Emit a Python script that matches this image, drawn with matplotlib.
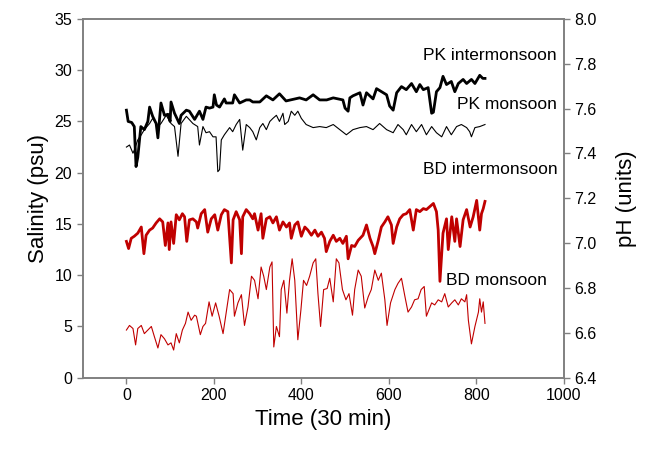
import matplotlib.pyplot as plt
from matplotlib.ticker import FormatStrFormatter

plt.rcParams['font.family'] = ['Liberation Sans', 'DejaVu Sans']

# PK intermonsoon (thick black)
pk_inter_t = [0, 4, 12, 18, 22, 26, 33, 41, 49, 53, 60, 68, 72, 79, 87, 95, 100, 102, 110, 121,
              125, 137, 144, 156, 167, 175, 182, 190, 198, 201, 206, 213, 224, 228, 243, 247, 259,
              274, 282, 289, 305, 320, 335, 350, 365, 396, 411, 427, 442, 458, 473, 495, 500, 507,
              511, 518, 534, 541, 549, 564, 572, 595, 602, 610, 618, 629, 640, 652, 663, 671, 679,
              690, 698, 702, 709, 717, 724, 732, 743, 751, 759, 770, 778, 789, 797, 808, 815, 820]
pk_inter_v = [26.1, 25.0, 24.9, 24.5, 20.6, 21.5, 24.5, 24.2, 25.0, 26.4, 25.5, 24.8, 23.4, 26.8,
              25.6, 25.7, 25.0, 26.9, 25.8, 24.8, 25.6, 26.1, 26.0, 25.2, 26.0, 25.2, 26.4, 26.3,
              26.4, 27.6, 26.6, 26.4, 27.2, 26.8, 26.8, 27.6, 26.8, 27.1, 27.1, 26.9, 26.9, 27.5,
              27.1, 27.7, 27.0, 27.3, 27.1, 27.6, 27.1, 27.1, 27.3, 27.1, 26.3, 26.0, 27.3, 27.5,
              27.8, 26.6, 27.8, 27.2, 28.2, 27.6, 26.5, 26.1, 27.8, 28.4, 28.1, 28.7, 27.9, 28.6,
              28.1, 28.3, 25.8, 25.9, 27.9, 28.3, 29.4, 28.6, 28.9, 27.9, 28.7, 29.1, 28.7, 29.1,
              28.7, 29.5, 29.2, 29.2]

# PK monsoon (thin black)
pk_mon_t = [0, 7, 15, 18, 26, 34, 41, 53, 60, 72, 79, 91, 102, 110, 118, 125, 137, 152, 163, 167,
            175, 182, 190, 198, 205, 209, 213, 217, 224, 236, 243, 251, 259, 266, 274, 282, 289,
            297, 305, 312, 320, 328, 335, 343, 350, 358, 362, 370, 377, 385, 392, 400, 411, 427,
            442, 457, 473, 488, 503, 518, 534, 549, 564, 579, 595, 610, 621, 633, 640, 652, 663,
            675, 686, 698, 709, 721, 732, 743, 755, 766, 778, 785, 789, 797, 808, 820]
pk_mon_v = [22.5, 22.7, 21.9, 22.2, 23.2, 23.7, 24.2, 24.8, 25.3, 24.5, 24.8, 25.6, 24.8, 24.5,
            21.6, 24.8, 25.5, 24.8, 24.5, 22.7, 24.5, 23.9, 24.0, 23.5, 23.5, 20.1, 20.3, 23.2,
            23.7, 24.4, 24.0, 24.7, 25.2, 22.2, 24.7, 24.4, 24.0, 23.2, 24.4, 24.8, 24.2, 25.0,
            25.3, 25.6, 25.0, 25.8, 24.7, 25.0, 26.0, 25.6, 26.0, 25.3, 24.7, 24.4, 24.5, 24.4,
            24.7, 24.2, 23.7, 24.2, 24.4, 24.5, 24.2, 24.8, 24.2, 23.9, 24.7, 24.2, 23.7, 24.7,
            24.0, 24.7, 23.7, 24.5, 23.9, 23.5, 24.5, 23.7, 24.5, 24.7, 24.4, 24.0, 23.5, 24.4,
            24.5, 24.7]

# BD intermonsoon (thick red)
bd_inter_t = [0, 5, 11, 18, 26, 34, 40, 45, 53, 60, 68, 76, 83, 89, 95, 98, 102, 108, 114, 121,
              128, 133, 138, 144, 152, 160, 163, 171, 179, 186, 194, 202, 209, 217, 224, 232, 240,
              244, 251, 259, 263, 266, 274, 282, 289, 293, 301, 308, 312, 320, 328, 335, 343, 350,
              358, 366, 373, 377, 385, 392, 400, 408, 415, 423, 431, 438, 446, 453, 457, 465, 473,
              480, 488, 495, 503, 507, 515, 522, 530, 541, 549, 557, 564, 568, 576, 583, 591, 598,
              606, 610, 618, 625, 633, 640, 648, 656, 663, 671, 679, 686, 694, 702, 709, 713, 717,
              724, 732, 736, 744, 751, 755, 763, 770, 778, 786, 793, 801, 808, 812, 816, 820]
bd_inter_v = [13.3, 12.6, 13.6, 13.8, 14.1, 14.7, 12.1, 13.9, 14.4, 14.6, 15.1, 15.5, 15.2, 12.9,
              15.1, 12.5, 15.2, 13.1, 15.9, 15.4, 16.0, 15.7, 13.3, 15.4, 15.5, 15.2, 14.6, 16.0,
              16.4, 14.2, 15.5, 15.9, 14.4, 15.9, 16.4, 16.2, 11.2, 15.4, 16.2, 15.4, 12.1, 15.7,
              16.4, 16.0, 15.5, 16.0, 14.4, 16.0, 13.6, 15.5, 15.7, 15.1, 15.7, 14.4, 15.2, 14.7,
              15.1, 13.6, 14.9, 15.2, 13.8, 14.7, 14.4, 13.9, 14.4, 13.8, 14.2, 13.6, 12.3, 13.3,
              13.9, 13.3, 13.6, 13.1, 13.8, 11.6, 12.9, 12.8, 13.4, 13.9, 14.9, 13.6, 12.8, 12.1,
              13.4, 14.7, 15.2, 15.7, 14.9, 13.1, 14.7, 15.5, 15.9, 16.0, 16.4, 14.4, 16.4, 16.2,
              16.5, 16.4, 16.7, 17.0, 16.2, 14.4, 9.4, 14.1, 15.5, 12.5, 15.7, 13.3, 15.5, 12.8,
              15.4, 16.4, 14.7, 15.7, 17.3, 14.4, 16.0, 16.5, 17.2]

# BD monsoon (thin red)
bd_mon_t = [0, 7, 15, 21, 26, 34, 41, 49, 57, 64, 72, 79, 87, 95, 102, 108, 114, 121, 128, 135,
            141, 148, 156, 160, 169, 175, 181, 189, 196, 204, 212, 221, 228, 236, 244, 247, 255,
            263, 270, 278, 286, 293, 301, 308, 314, 320, 328, 333, 337, 343, 350, 354, 360, 367,
            373, 379, 385, 392, 399, 405, 412, 419, 427, 433, 438, 444, 451, 459, 465, 473, 480,
            486, 494, 502, 509, 517, 522, 530, 537, 545, 553, 560, 568, 576, 583, 591, 596, 604,
            614, 621, 629, 637, 644, 652, 659, 667, 674, 681, 686, 698, 705, 713, 721, 728, 736,
            744, 751, 759, 766, 774, 778, 782, 789, 797, 805, 808, 812, 816, 820]
bd_mon_v = [4.65, 5.1, 4.8, 3.2, 4.8, 5.1, 4.3, 4.65, 5.0, 4.0, 2.9, 4.2, 3.8, 3.2, 3.4, 2.7, 4.3,
            3.4, 4.65, 5.3, 6.4, 5.6, 6.1, 6.0, 4.2, 5.0, 5.3, 7.4, 6.0, 7.3, 6.0, 4.3, 6.3, 8.6,
            8.2, 6.0, 7.3, 8.1, 5.1, 6.9, 9.9, 9.5, 7.7, 10.8, 9.9, 8.6, 10.8, 11.3, 3.0, 5.0,
            4.0, 8.6, 9.5, 6.3, 9.5, 11.6, 9.5, 3.7, 6.6, 9.5, 9.0, 9.9, 11.2, 11.6, 8.2, 5.0,
            8.6, 8.7, 9.7, 7.4, 11.6, 11.2, 8.6, 7.6, 8.2, 6.1, 8.6, 10.5, 9.9, 6.8, 7.9, 8.6,
            10.5, 9.5, 10.2, 7.6, 5.1, 7.3, 8.6, 9.2, 9.7, 7.9, 6.4, 6.9, 7.6, 7.7, 8.6, 8.9,
            6.0, 7.3, 7.1, 7.6, 7.4, 8.2, 6.9, 7.3, 7.6, 7.1, 7.7, 7.4, 8.1, 5.6, 3.3, 5.0, 6.4,
            7.7, 6.4, 7.4, 5.3]

red = '#c00000'
grey = '#808080'

fig = plt.figure(figsize=(6.46, 4.51), dpi=100)
ax = fig.add_axes([0.128, 0.1625, 0.7446, 0.7955])

ax.plot(bd_mon_t, bd_mon_v, color=red, lw=0.8)
ax.plot(bd_inter_t, bd_inter_v, color=red, lw=2.0)
ax.plot(pk_mon_t, pk_mon_v, color='black', lw=0.8)
ax.plot(pk_inter_t, pk_inter_v, color='black', lw=2.0)

ax.text(983, 31.4, 'PK intermonsoon', ha='right', va='center', fontsize=12.5)
ax.text(985, 26.7, 'PK monsoon', ha='right', va='center', fontsize=12.5)
ax.text(985, 20.3, 'BD intermonsoon', ha='right', va='center', fontsize=12.5)
ax.text(730, 9.5, 'BD monsoon', ha='left', va='center', fontsize=12.5)

ax.set_xlim(-100, 1000)
ax.set_ylim(0, 35)
ax.set_xticks([0, 200, 400, 600, 800, 1000])
ax.set_yticks(range(0, 36, 5))
ax.set_xlabel('Time (30 min)', fontsize=16)
ax.set_ylabel('Salinity (psu)', fontsize=16)

ax2 = ax.twinx()
ax2.set_ylim(6.4, 8.0)
ax2.set_yticks([6.4, 6.6, 6.8, 7.0, 7.2, 7.4, 7.6, 7.8, 8.0])
ax2.yaxis.set_major_formatter(FormatStrFormatter('%.1f'))
ax2.set_ylabel('pH (units)', fontsize=16, labelpad=14)

for a in (ax, ax2):
    for s in a.spines.values():
        s.set_color(grey)
        s.set_linewidth(1.2)
    a.tick_params(direction='out', length=4, width=1, color=grey, labelsize=11.5)

plt.savefig('out.png', dpi=100)
